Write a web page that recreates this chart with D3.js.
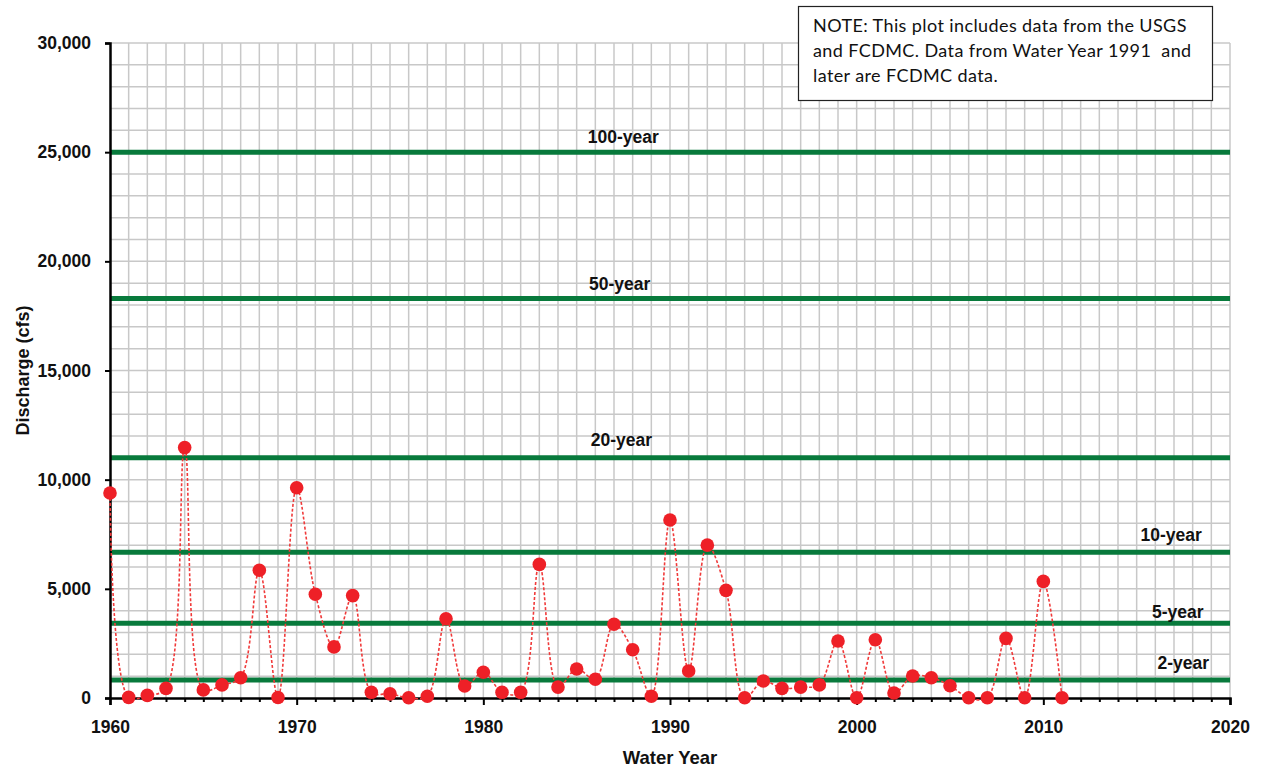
<!DOCTYPE html>
<html><head><meta charset="utf-8">
<script src="https://cdn.jsdelivr.net/npm/d3@7/dist/d3.min.js"></script>
<style>body{margin:0;background:#fff}svg{display:block}</style>
</head><body>
<svg id="c" width="1262" height="771"></svg>
<script>
const years = d3.range(1960, 2012);
const discharge = [9390, 30, 120, 440, 11470, 370, 600, 930, 5850, 20,
  9630, 4750, 2340, 4690, 260, 190, 10, 80, 3630, 550,
  1180, 260, 260, 6120, 500, 1330, 860, 3380, 2210, 80,
  8150, 1240, 7000, 4930, 10, 780, 440, 500, 600, 2610,
  10, 2670, 230, 1010, 930, 560, 10, 10, 2730, 10,
  5340, 10];
const freqLabels = ["100-year", "50-year", "20-year", "10-year", "5-year", "2-year"];
const freqValues = [25000, 18300, 11000, 6670, 3420, 820];
const freqLabelYears = [1987.5, 1987.3, 1987.4, 2016.85, 2017.2, 2017.5];
const freqLabelRaise = [9, 8, 12, 11, 5, 11];
const yTicks = [0, 5000, 10000, 15000, 20000, 25000, 30000];
const xTicks = [1960, 1970, 1980, 1990, 2000, 2010, 2020];
const noteLines = ["NOTE: This plot includes data from the USGS", "and FCDMC. Data from Water Year 1991  and", "later are FCDMC data."];

const FONT = "'Liberation Sans', Arial, sans-serif";
const svg = d3.select("#c");
const x = d3.scaleLinear().domain([1960, 2020]).range([110, 1230]);
const y = d3.scaleLinear().domain([0, 30000]).range([698, 43]);

// grid
const g = svg.append("g");
g.selectAll("line.v").data(d3.range(1961, 2021)).join("line")
  .attr("x1", d => x(d)).attr("x2", d => x(d)).attr("y1", y(30000)).attr("y2", y(0))
  .attr("stroke", "#c8c8c8").attr("stroke-width", 1.5);
g.selectAll("line.h").data(d3.range(1000, 30001, 1000)).join("line")
  .attr("x1", x(1960)).attr("x2", x(2020)).attr("y1", d => y(d)).attr("y2", d => y(d))
  .attr("stroke", "#c8c8c8").attr("stroke-width", 1.5);

// frequency lines
svg.selectAll("line.f").data(freqValues).join("line")
  .attr("x1", x(1960)).attr("x2", x(2020)).attr("y1", d => y(d)).attr("y2", d => y(d))
  .attr("stroke", "#087a3c").attr("stroke-width", 5);
svg.selectAll("text.f").data(freqLabels).join("text")
  .attr("x", (d, i) => x(freqLabelYears[i])).attr("y", (d, i) => y(freqValues[i]) - freqLabelRaise[i])
  .attr("text-anchor", "middle").attr("font-family", FONT)
  .attr("font-weight", "bold").attr("font-size", 17.5).attr("fill", "#111").text(d => d);

// axes
svg.append("g").attr("transform", `translate(0,${y(0)})`)
  .call(d3.axisBottom(x).tickValues(xTicks).tickFormat(d3.format("d")).tickSize(7).tickPadding(16));
svg.append("g").attr("transform", `translate(0,${y(0)})`)
  .call(d3.axisBottom(x).tickValues(d3.range(1961, 2021).filter(d => d % 10)).tickFormat("").tickSize(4))
  .call(s => s.select(".domain").remove());
svg.append("g").attr("transform", `translate(${x(1960)},0)`)
  .call(d3.axisLeft(y).tickValues(yTicks).tickFormat(d3.format(",")).tickSize(5).tickPadding(14));
svg.selectAll(".domain").attr("stroke", "#000").attr("stroke-width", 2.5);
svg.selectAll(".tick line").attr("stroke", "#000").attr("stroke-width", 2);
svg.selectAll(".tick text").attr("font-family", FONT)
  .attr("font-weight", "bold").attr("font-size", 17.5).attr("fill", "#111");

// data
svg.append("path").datum(discharge)
  .attr("d", d3.line().x((d, i) => x(years[i])).y(d => y(d)).curve(d3.curveCatmullRom.alpha(0.5)))
  .attr("fill", "none").attr("stroke", "#f03a3a").attr("stroke-width", 1.6).attr("stroke-dasharray", "3,2");
svg.selectAll("circle").data(discharge).join("circle")
  .attr("cx", (d, i) => x(years[i])).attr("cy", d => y(d)).attr("r", 6.8).attr("fill", "#ee2027");

// axis titles
svg.append("text").attr("x", x(1990)).attr("y", 764).attr("text-anchor", "middle")
  .attr("font-family", FONT).attr("font-weight", "bold").attr("font-size", 18.5)
  .attr("fill", "#111").text("Water Year");
svg.append("text").attr("transform", `translate(28.5,${y(15000)}) rotate(-90)`).attr("text-anchor", "middle")
  .attr("font-family", FONT).attr("font-weight", "bold").attr("font-size", 18)
  .attr("fill", "#111").text("Discharge (cfs)");

// note box
svg.append("rect").attr("x", 798.5).attr("y", 6.5).attr("width", 414).attr("height", 94)
  .attr("fill", "#fff").attr("stroke", "#222").attr("stroke-width", 1.2);
svg.selectAll("text.note").data(noteLines).join("text")
  .attr("x", 813).attr("y", (d, i) => 32 + i * 25)
  .attr("font-family", "Lato, 'Open Sans', sans-serif").attr("font-size", 18).attr("letter-spacing", 0.4)
  .attr("fill", "#111").style("white-space", "pre").text(d => d);
</script>
</body></html>
